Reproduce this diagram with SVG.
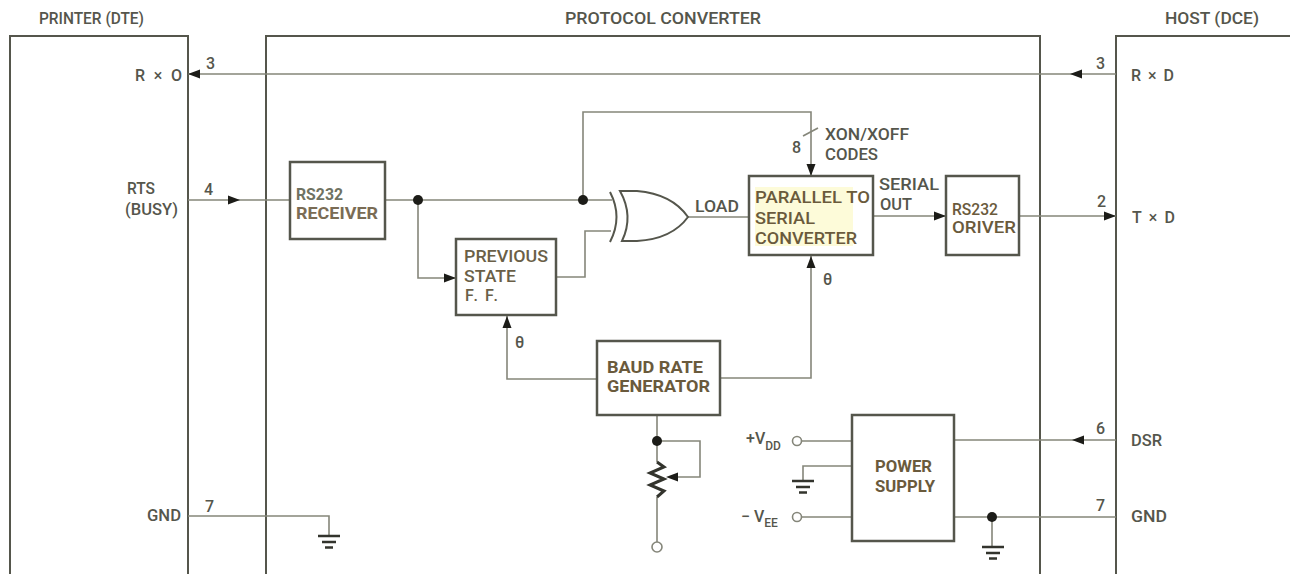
<svg xmlns="http://www.w3.org/2000/svg" width="1290" height="574" viewBox="0 0 1290 574">
<style>
.f{fill:none;stroke:#55564c;stroke-width:2}
.b{fill:#fff;stroke:#55564c;stroke-width:2.5}
.w{fill:none;stroke:#85867a;stroke-width:1.6}
.d{fill:#1c1c18}
text{font-family:Roboto,"Liberation Sans",Arial,sans-serif;font-weight:500;font-size:16px;fill:#55564c}
.h{font-weight:700;font-size:17px;fill:#6a5a3c}
.s{font-size:12px}
.g{stroke:#33342d;stroke-width:2.5;fill:none}
.o{fill:#fff;stroke:#85867a;stroke-width:1.6}
</style>
<defs>
<path id="ar" class="d" d="M0 0L-12 -4.5V4.5Z"/>
<g id="gnd"><path class="g" d="M-11 0H11M-7 6H7M-4 11.5H4"/></g>
</defs>
<rect width="1290" height="574" fill="#fff"/>
<g id="printer"><path class="f" d="M10 574V36H188V574"/>
<text x="39" y="24" textLength="105" lengthAdjust="spacingAndGlyphs">PRINTER (DTE)</text>
<text x="135" y="81" textLength="47" lengthAdjust="spacing">R × O</text>
<text x="127" y="194" textLength="28" lengthAdjust="spacingAndGlyphs">RTS</text><text x="125" y="215" textLength="53" lengthAdjust="spacingAndGlyphs">(BUSY)</text>
<text x="147" y="521" textLength="34" lengthAdjust="spacingAndGlyphs">GND</text></g>
<g id="converter"><path class="f" d="M266 574V36H1040V574"/>
<text x="565" y="24" textLength="196" lengthAdjust="spacingAndGlyphs">PROTOCOL CONVERTER</text></g>
<g id="host"><path class="f" d="M1290 36H1116V574"/>
<text x="1165" y="24" textLength="94" lengthAdjust="spacingAndGlyphs">HOST (DCE)</text>
<text x="1131" y="81" textLength="43" lengthAdjust="spacing">R × D</text>
<text x="1132" y="223" textLength="43" lengthAdjust="spacing">T × D</text>
<text x="1131" y="446" textLength="31" lengthAdjust="spacingAndGlyphs">DSR</text>
<text x="1131" y="522" textLength="36" lengthAdjust="spacingAndGlyphs">GND</text></g>
<g id="connectors">
<path class="w" d="M188 74H1116M188 200H290M385 200H612M418 200V278H456M583 200V112H811V176M556 277H585V231H611M688 217H749M873 216H946M1019 216H1116M597 379H507V316M720 378H811V256"/>
<path class="w" d="M657 414V462M657 497V542M657 441H700V477H672M802 441H852M852 466H803V480M802 517H852M954 440H1116M954 517H1116M992 517V546M188 516H329V535"/>
<path class="w" d="M803 136L818 128"/>
<path d="M657 462L664 467L650 473L664 479L650 485L664 491L657 497" fill="none" stroke="#33342d" stroke-width="3"/>
<use href="#ar" transform="translate(188 74) rotate(180)"/>
<use href="#ar" transform="translate(1070 74) rotate(180)"/>
<use href="#ar" transform="translate(240 200)"/>
<use href="#ar" transform="translate(456 278)"/>
<use href="#ar" transform="translate(811 176) rotate(90)"/>
<use href="#ar" transform="translate(946 216)"/>
<use href="#ar" transform="translate(1116 216)"/>
<use href="#ar" transform="translate(507 316) rotate(-90)"/>
<use href="#ar" transform="translate(811 256) rotate(-90)"/>
<use href="#ar" transform="translate(1072 440) rotate(180)"/>
<use href="#ar" transform="translate(666 477) rotate(180)"/>
<circle class="d" cx="418" cy="200" r="5"/><circle class="d" cx="583" cy="200" r="5"/>
<circle class="d" cx="657" cy="441" r="5"/><circle class="d" cx="992" cy="517" r="5"/>
<circle class="o" cx="797" cy="441" r="4.5"/><circle class="o" cx="797" cy="517" r="4.5"/><circle class="o" cx="657" cy="547" r="5"/>
<use href="#gnd" transform="translate(803 481)"/>
<use href="#gnd" transform="translate(993 547)"/>
<use href="#gnd" transform="translate(329 536)"/>
<text x="206" y="69">3</text><text x="1096" y="69">3</text><text x="204" y="195">4</text>
<text x="1097" y="207">2</text><text x="1096" y="434">6</text><text x="1096" y="511">7</text><text x="205" y="512">7</text>
<text x="792" y="153">8</text><text x="515" y="348" font-weight="700">θ</text><text x="823" y="285" font-weight="700">θ</text>
<text x="695" y="212" textLength="44" lengthAdjust="spacingAndGlyphs">LOAD</text>
<text x="879" y="190" textLength="60" lengthAdjust="spacingAndGlyphs">SERIAL</text><text x="880" y="210" textLength="32" lengthAdjust="spacingAndGlyphs">OUT</text>
<text x="825" y="140" textLength="84" lengthAdjust="spacingAndGlyphs">XON/XOFF</text><text x="825" y="160" textLength="53" lengthAdjust="spacingAndGlyphs">CODES</text>
</g>
<g id="receiver"><rect class="b" x="290" y="162" width="95" height="77"/>
<text class="h" x="296" y="200" textLength="47" lengthAdjust="spacingAndGlyphs" style="fill:#6f7262">RS232</text><text class="h" x="296" y="219" textLength="82" lengthAdjust="spacingAndGlyphs" style="fill:#7a6c55">RECEIVER</text></g>
<g id="prev"><rect class="b" x="456" y="239" width="100" height="76"/>
<text x="464" y="262" textLength="84" lengthAdjust="spacingAndGlyphs" style="fill:#6a5f47">PREVIOUS</text><text x="464" y="282" textLength="52" lengthAdjust="spacingAndGlyphs" style="fill:#6a5f47">STATE</text><text x="465" y="301" textLength="33" lengthAdjust="spacing" style="fill:#6a5f47">F. F.</text></g>
<g id="xor"><path class="f" d="M610 192Q623 217 610 242"/>
<path class="f" d="M620 191H637Q672 194 688 217Q672 239 637 241H622Q634 216 620 191Z"/></g>
<g id="parallel"><rect class="b" x="749" y="176" width="124" height="79"/>
<rect x="755" y="187" width="98" height="59" fill="#fdfbd9"/>
<text class="h" x="755" y="203" textLength="115" lengthAdjust="spacingAndGlyphs" style="font-weight:500">PARALLEL TO</text><text class="h" x="755" y="224" textLength="60" lengthAdjust="spacingAndGlyphs" style="font-weight:500">SERIAL</text><text class="h" x="755" y="244" textLength="102" lengthAdjust="spacingAndGlyphs" style="font-weight:500">CONVERTER</text></g>
<g id="driver"><rect class="b" x="946" y="176" width="73" height="79"/>
<text class="h" x="952" y="215" textLength="46" lengthAdjust="spacingAndGlyphs" style="font-weight:500">RS232</text><text class="h" x="952" y="233" textLength="64" lengthAdjust="spacingAndGlyphs" style="font-weight:500">ORIVER</text></g>
<g id="baud"><rect class="b" x="597" y="341" width="123" height="74"/>
<text class="h" x="607" y="373" textLength="96" lengthAdjust="spacingAndGlyphs">BAUD RATE</text><text class="h" x="607" y="392" textLength="103" lengthAdjust="spacingAndGlyphs">GENERATOR</text></g>
<g id="power"><rect class="b" x="852" y="415" width="102" height="126"/>
<text class="h" x="875" y="472" textLength="57" lengthAdjust="spacingAndGlyphs">POWER</text><text class="h" x="875" y="492" textLength="60" lengthAdjust="spacingAndGlyphs">SUPPLY</text></g>
<g id="labels"><text x="746" y="444">+V<tspan class="s" dy="6">DD</tspan></text>
<text x="741" y="522">− V<tspan class="s" dy="5">EE</tspan></text></g>
</svg>
